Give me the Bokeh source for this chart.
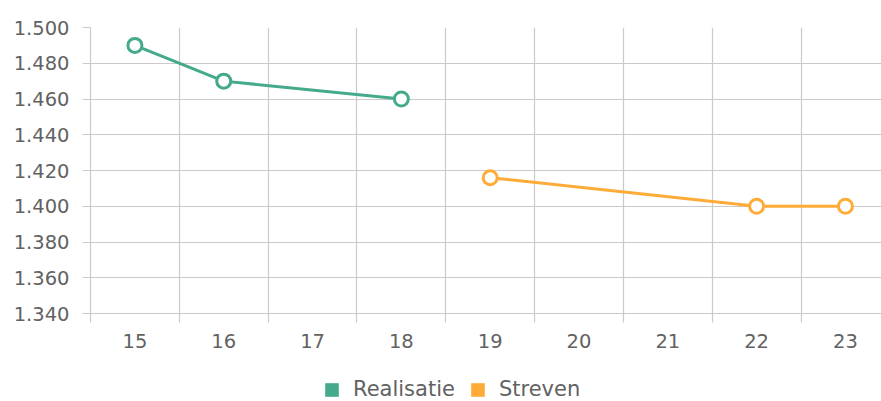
from bokeh.plotting import figure
from bokeh.layouts import column
from bokeh.models import (ColumnDataSource, FixedTicker, Range1d, Legend, LegendItem,
                          NumeralTickFormatter)
from bokeh.embed import file_html
from bokeh.resources import INLINE

# ---- data ----
categories = ["15", "16", "17", "18", "19", "20", "21", "22", "23"]
realisatie = [1.490, 1.470, None, 1.460, None, None, None, None, None]
streven = [None, None, None, None, 1.416, None, None, 1.400, 1.400]
y_ticks = [1.340, 1.360, 1.380, 1.400, 1.420, 1.440, 1.460, 1.480, 1.500]
series_names = ["Realisatie", "Streven"]

# ---- styles ----
GREEN = "#44aa8b"
ORANGE = "#ffab38"
GRID = "#cacaca"
TEXT = "#626262"
FONT = "DejaVu Sans"
FSIZE = "19.5px"


def points(vals):
    xs = [i for i, v in enumerate(vals) if v is not None]
    ys = [v for v in vals if v is not None]
    return ColumnDataSource(dict(x=xs, y=ys))


n = len(categories)
p = figure(width=881, height=361, output_backend="svg", toolbar_location=None,
           x_range=Range1d(-0.5, 8.406), y_range=Range1d(y_ticks[0], y_ticks[-1]),
           min_border_left=90, min_border_right=0, min_border_top=27,
           min_border_bottom=48)
p.outline_line_color = None
p.background_fill_color = "white"

# grids at category boundaries / y ticks
p.xgrid.ticker = FixedTicker(ticks=[i - 0.5 for i in range(n + 1)])
p.ygrid.ticker = FixedTicker(ticks=y_ticks)
for g in (p.xgrid, p.ygrid):
    g.grid_line_color = GRID
    g.grid_line_width = 1.2

# x axis
xa = p.xaxis[0]
xa.ticker = FixedTicker(ticks=list(range(n)), minor_ticks=[i - 0.5 for i in range(n + 1)])
xa.major_label_overrides = {i: c for i, c in enumerate(categories)}
xa.major_tick_line_color = None
xa.major_tick_out = 0
xa.major_tick_in = 0
xa.minor_tick_out = 9
xa.minor_tick_in = 0
xa.minor_tick_line_color = GRID
xa.minor_tick_line_width = 1.2
xa.axis_line_color = GRID
xa.axis_line_width = 1.2
xa.major_label_standoff = 11
xa.major_label_text_font = FONT
xa.major_label_text_font_size = FSIZE
xa.major_label_text_color = TEXT

# y axis
ya = p.yaxis[0]
ya.ticker = FixedTicker(ticks=y_ticks)
ya.formatter = NumeralTickFormatter(format="0.000")
ya.major_tick_out = 8
ya.major_tick_in = 0
ya.major_tick_line_color = GRID
ya.major_tick_line_width = 1.2
ya.minor_tick_line_color = None
ya.axis_line_color = GRID
ya.axis_line_width = 1.2
ya.major_label_standoff = 13
ya.major_label_text_font = FONT
ya.major_label_text_font_size = FSIZE
ya.major_label_text_color = TEXT

sources = []
for vals, col in zip([realisatie, streven], [GREEN, ORANGE]):
    src = points(vals)
    sources.append(src)
    p.line("x", "y", source=src, line_width=3, line_color=col)
    p.scatter("x", "y", source=src, size=14, fill_color="white", line_color=col,
              line_width=3)

# ---- legend strip below the chart ----
lg = figure(width=881, height=40, output_backend="svg", toolbar_location=None,
            x_range=Range1d(0, 1), y_range=Range1d(0, 1),
            x_axis_location=None, y_axis_location=None,
            min_border_left=0, min_border_right=0, min_border_top=0,
            min_border_bottom=0)
lg.outline_line_color = None
lg.grid.visible = False

items = []
for name, col, src in zip(series_names, [GREEN, ORANGE], sources):
    # zero-size quads at the series' points (outside this strip's view);
    # they only provide the square legend swatch
    q = lg.quad(left="x", right="x", top="y", bottom="y", source=src,
                fill_color=col, line_color=None)
    items.append(LegendItem(label=name, renderers=[q]))

legend = Legend(items=items, location=(233, 0), orientation="horizontal",
                glyph_width=17, glyph_height=17, label_standoff=13, spacing=14,
                padding=0, margin=0, border_line_color=None,
                background_fill_alpha=0,
                label_text_font=FONT, label_text_font_size="21px",
                label_text_color=TEXT)
lg.add_layout(legend)

layout = column(p, lg, spacing=0)
open("out.html", "w").write(file_html(layout, INLINE))
